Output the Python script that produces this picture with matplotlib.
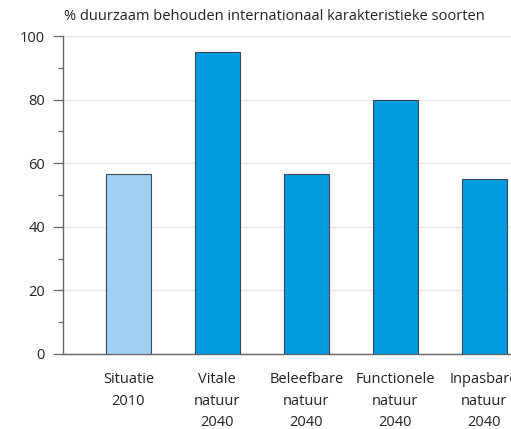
import matplotlib
matplotlib.use("Agg")
import matplotlib.pyplot as plt
from matplotlib.ticker import MultipleLocator

# data
categories = ["Situatie\n2010", "Vitale\nnatuur\n2040", "Beleefbare\nnatuur\n2040",
              "Functionele\nnatuur\n2040", "Inpasbare\nnatuur\n2040"]
values = [56.5, 95, 56.5, 80, 55]
bar_colors = ["#9fd0f3", "#009bdf", "#009bdf", "#009bdf", "#009bdf"]
y_ticks = [0, 20, 40, 60, 80, 100]
title = "% duurzaam behouden internationaal karakteristieke soorten"

plt.rcParams['font.family'] = ['Open Sans', 'DejaVu Sans']

fig = plt.figure(figsize=(5.11, 4.29), dpi=100)
ax = fig.add_axes([0.124, 0.175, 0.876, 0.741])

x = list(range(len(categories)))
ax.bar(x, values, width=0.505, color=bar_colors, edgecolor="#3c4650",
       linewidth=0.8, zorder=3)

ax.set_xlim(-0.73, 4.30)
ax.set_ylim(0, 100)
ax.set_yticks(y_ticks)
ax.set_yticklabels([str(t) for t in y_ticks], fontsize=10.5, color="#222222")
ax.yaxis.set_minor_locator(MultipleLocator(10))
ax.tick_params(axis="y", which="major", length=7.2, width=0.9, color="#666666", pad=6)
ax.tick_params(axis="y", which="minor", length=3.6, width=0.9, color="#666666")

ax.set_xticks(x)
ax.set_xticklabels(categories, fontsize=10.5, color="#222222", linespacing=1.6)
ax.tick_params(axis="x", length=0, pad=13)

ax.grid(axis="y", color="#e6e6e6", linewidth=1.0, zorder=0)
ax.set_axisbelow(True)

for side in ["top", "right"]:
    ax.spines[side].set_visible(False)
for side in ["left", "bottom"]:
    ax.spines[side].set_color("#666666")
    ax.spines[side].set_linewidth(1.0)

fig.text(64 / 511, 1 - 17 / 429, title, fontsize=10.5, color="#222222",
         ha="left", va="center")

fig.savefig("out.png", dpi=100)
